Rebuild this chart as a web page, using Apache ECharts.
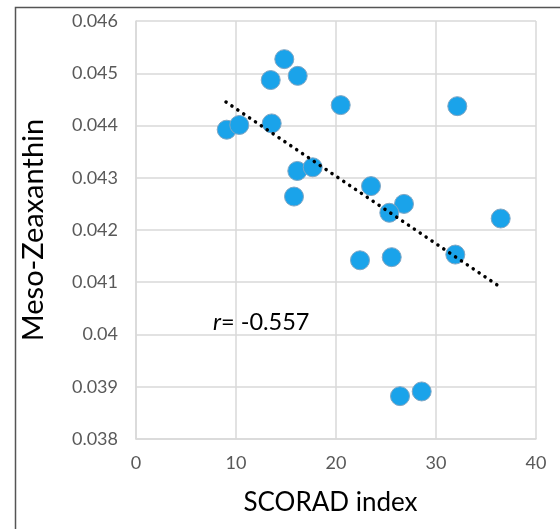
<!DOCTYPE html>
<html><head><meta charset="utf-8">
<script src="https://cdn.jsdelivr.net/npm/echarts@6/dist/echarts.min.js"></script>
<style>html,body{margin:0;padding:0;background:#fff}#c{width:560px;height:529px}</style>
</head><body><div id="c"></div>
<script>
const scorad = [14.83, 13.47, 16.17, 20.47, 32.13, 9.07, 10.33, 13.57, 16.13, 17.67, 15.8, 23.5, 26.8, 25.33, 36.47, 31.93, 22.4, 25.57, 26.4, 28.57];
const mesoZea = [0.04527, 0.04487, 0.04495, 0.04439, 0.04437, 0.04392, 0.04401, 0.04404, 0.04313, 0.04320, 0.04264, 0.04284, 0.04250, 0.04233, 0.04222, 0.04153, 0.04142, 0.04148, 0.03882, 0.03891];
const trendX = [9.0, 36.33];
const trendY = [0.04445, 0.04092];
const rLabel = '-0.557';
const xTitle = 'SCORAD index';
const yTitle = 'Meso-Zeaxanthin';

const font = 'Lato, "Open Sans", sans-serif';
const chart = echarts.init(document.getElementById('c'), null, {renderer: 'canvas'});
chart.setOption({
  animation: false,
  backgroundColor: '#fff',
  grid: {left: 136, right: 24, top: 21, bottom: 90, containLabel: false},
  xAxis: {
    type: 'value', min: 0, max: 40, interval: 10,
    name: xTitle, nameLocation: 'middle', nameGap: 51,
    nameTextStyle: {fontFamily: font, fontSize: 26, color: '#000', padding: [0, 11, 0, 0]},
    axisLine: {show: true, lineStyle: {color: '#d9d9d9', width: 1.5}},
    axisTick: {show: false},
    axisLabel: {fontFamily: font, fontSize: 18, color: '#595959', margin: 15},
    splitLine: {show: true, lineStyle: {color: '#d9d9d9', width: 1.5}}
  },
  yAxis: {
    type: 'value', min: 0.038, max: 0.046, interval: 0.001,
    name: yTitle, nameLocation: 'middle', nameGap: 88, nameRotate: 90,
    nameTextStyle: {fontFamily: font, fontSize: 29, color: '#000'},
    axisLine: {show: true, lineStyle: {color: '#d9d9d9', width: 1.5}},
    axisTick: {show: false},
    axisLabel: {fontFamily: font, fontSize: 18, color: '#595959', margin: 18,
      formatter: v => String(+v.toFixed(3))},
    splitLine: {show: true, lineStyle: {color: '#d9d9d9', width: 1.5}}
  },
  series: [
    {
      type: 'line', data: trendX.map((x, i) => [x, trendY[i]]),
      symbol: 'none', silent: true, z: 3,
      lineStyle: {color: '#000', width: 3.5, type: [0.1, 7], cap: 'round'}
    },
    {
      type: 'scatter', data: scorad.map((x, i) => [x, mesoZea[i]]),
      symbolSize: 19, z: 2,
      itemStyle: {color: '#1aa3ea', borderColor: '#7fa6c4', borderWidth: 1, opacity: 1}
    }
  ],
  graphic: [
    {type: 'rect', left: 13, top: 5, shape: {width: 546, height: 530},
     style: {fill: 'none', stroke: '#555', lineWidth: 1.5}, silent: true, z: -1},
    {type: 'text', left: 213, top: 310, z: 10,
     style: {text: '{i|r}= ' + rLabel, font: '23.5px ' + font, fill: '#000',
       rich: {i: {fontStyle: 'italic', fontSize: 23.5, fontFamily: font, fill: '#000'}}}}
  ]
});
</script></body></html>
